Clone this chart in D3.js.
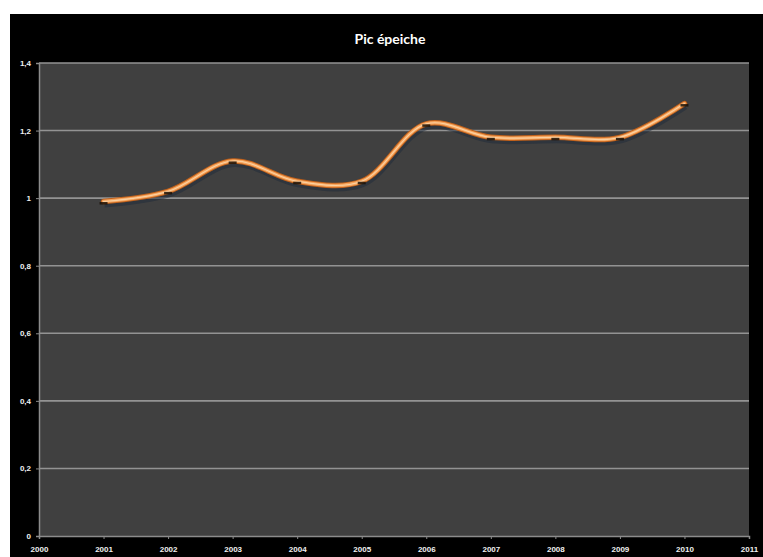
<!DOCTYPE html>
<html><head><meta charset="utf-8">
<script src="https://cdn.jsdelivr.net/npm/d3@7"></script>
<style>html,body{margin:0;padding:0;background:#fff;}svg{display:block;}</style>
</head><body>
<script>
const title = "Pic épeiche";
const years = [2001, 2002, 2003, 2004, 2005, 2006, 2007, 2008, 2009, 2010];
const values = [0.99, 1.02, 1.11, 1.05, 1.05, 1.22, 1.18, 1.18, 1.18, 1.28];
const xTicks = [2000, 2001, 2002, 2003, 2004, 2005, 2006, 2007, 2008, 2009, 2010, 2011];
const yTicks = [0, 0.2, 0.4, 0.6, 0.8, 1, 1.2, 1.4];

const W = 763, H = 557;
const svg = d3.select("body").append("svg").attr("width", W).attr("height", H);
svg.append("rect").attr("x", 10).attr("y", 14).attr("width", W - 10).attr("height", H - 14).attr("fill", "#000");

const L = 39, R = 749, T = 63, B = 536;
const x = d3.scaleLinear().domain([2000, 2011]).range([L, R]);
const y = d3.scaleLinear().domain([0, 1.4]).range([B, T]);

svg.append("rect").attr("x", L).attr("y", T).attr("width", R - L).attr("height", B - T).attr("fill", "#404040");

// gridlines
svg.append("g").selectAll("line").data(yTicks.filter(d => d > 0)).join("line")
  .attr("x1", L).attr("x2", R).attr("y1", d => y(d)).attr("y2", d => y(d))
  .attr("stroke", "#939393").attr("stroke-width", 1.6);

const fmt = d => String(d).replace(".", ",");
const yAxis = svg.append("g").attr("transform", `translate(${L},0)`)
  .call(d3.axisLeft(y).tickValues(yTicks).tickFormat(fmt).tickSize(3));
const xAxis = svg.append("g").attr("transform", `translate(0,${B})`)
  .call(d3.axisBottom(x).tickValues(xTicks).tickFormat(d3.format("d")).tickSize(3));
[yAxis, xAxis].forEach(a => {
  a.selectAll(".domain").attr("stroke", "#8c8c8c").attr("stroke-width", 1.5);
  a.selectAll(".tick line").attr("stroke", "#8c8c8c");
  a.selectAll("text").attr("fill", "#f0f0f0").attr("font-family", "Liberation Sans Narrow, Arial Narrow, Liberation Sans, sans-serif")
    .attr("font-size", 8).attr("font-weight", "bold");
});
yAxis.selectAll("text").attr("x", -8);
xAxis.selectAll("text").attr("y", 10);

const pts = years.map((yr, i) => [x(yr), y(values[i])]);
const line = d3.line().curve(d3.curveCatmullRom.alpha(0.5));

// shadow
svg.append("path").attr("d", line(pts.map(p => [p[0] + 1, p[1] + 3])))
  .attr("fill", "none").attr("stroke", "#1e2a3a").attr("stroke-opacity", 0.5).attr("stroke-width", 6);
svg.append("path").attr("d", line(pts)).attr("fill", "none")
  .attr("stroke", "#c0601a").attr("stroke-width", 5.5).attr("stroke-linecap", "round");
svg.append("path").attr("d", line(pts)).attr("fill", "none")
  .attr("stroke", "#f6a45c").attr("stroke-width", 3.5).attr("stroke-linecap", "round");
svg.append("path").attr("d", line(pts)).attr("fill", "none")
  .attr("stroke", "#fbd0a0").attr("stroke-width", 1.2).attr("stroke-linecap", "round");

// markers
svg.append("g").selectAll("rect").data(pts).join("rect")
  .attr("x", d => d[0] - 4).attr("y", d => d[1] + 0.5).attr("width", 8).attr("height", 2.5)
  .attr("fill", "#1a1208").attr("opacity", 0.85);

svg.append("text").attr("x", 390).attr("y", 44).attr("text-anchor", "middle")
  .attr("fill", "#fff").attr("font-family", "Lato, Open Sans, sans-serif").attr("font-weight", "bold")
  .attr("font-size", 14).text(title);
</script>
</body></html>
